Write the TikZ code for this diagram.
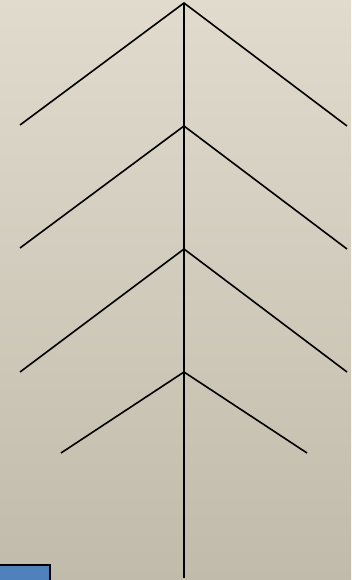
\documentclass[tikz,border=0pt]{standalone}
\definecolor{bgtop}{RGB}{224,219,205}
\definecolor{bgbot}{RGB}{192,187,170}
\definecolor{boxblue}{RGB}{79,129,189}
\tikzset{
  spine/.style={line width=1.6pt, black},
  rib/.style={line width=1.6pt, black},
  bluebox/.style={draw=black, line width=2pt, fill=boxblue}
}
\begin{document}
\begin{tikzpicture}[x=1pt,y=-1pt]
\shade[top color=bgtop, bottom color=bgbot] (0,0) rectangle (351,580);
\useasboundingbox (0,0) rectangle (351,580);
\coordinate (a1) at (184,3);
\coordinate (a2) at (184,126);
\coordinate (a3) at (184,249);
\coordinate (a4) at (184,372);
\coordinate (bot) at (184,578);
\coordinate (l1) at (20,125);
\coordinate (r1) at (347,126);
\coordinate (l2) at (20,248);
\coordinate (r2) at (347,249);
\coordinate (l3) at (20,372);
\coordinate (r3) at (347,372);
\coordinate (l4) at (61,453);
\coordinate (r4) at (307,453);
\draw[spine] (a1) -- (bot);
\draw[rib] (l1) -- (a1) -- (r1);
\draw[rib] (l2) -- (a2) -- (r2);
\draw[rib] (l3) -- (a3) -- (r3);
\draw[rib] (l4) -- (a4) -- (r4);
\draw[bluebox] (-2,565) rectangle (50,583);
\end{tikzpicture}
\end{document}
